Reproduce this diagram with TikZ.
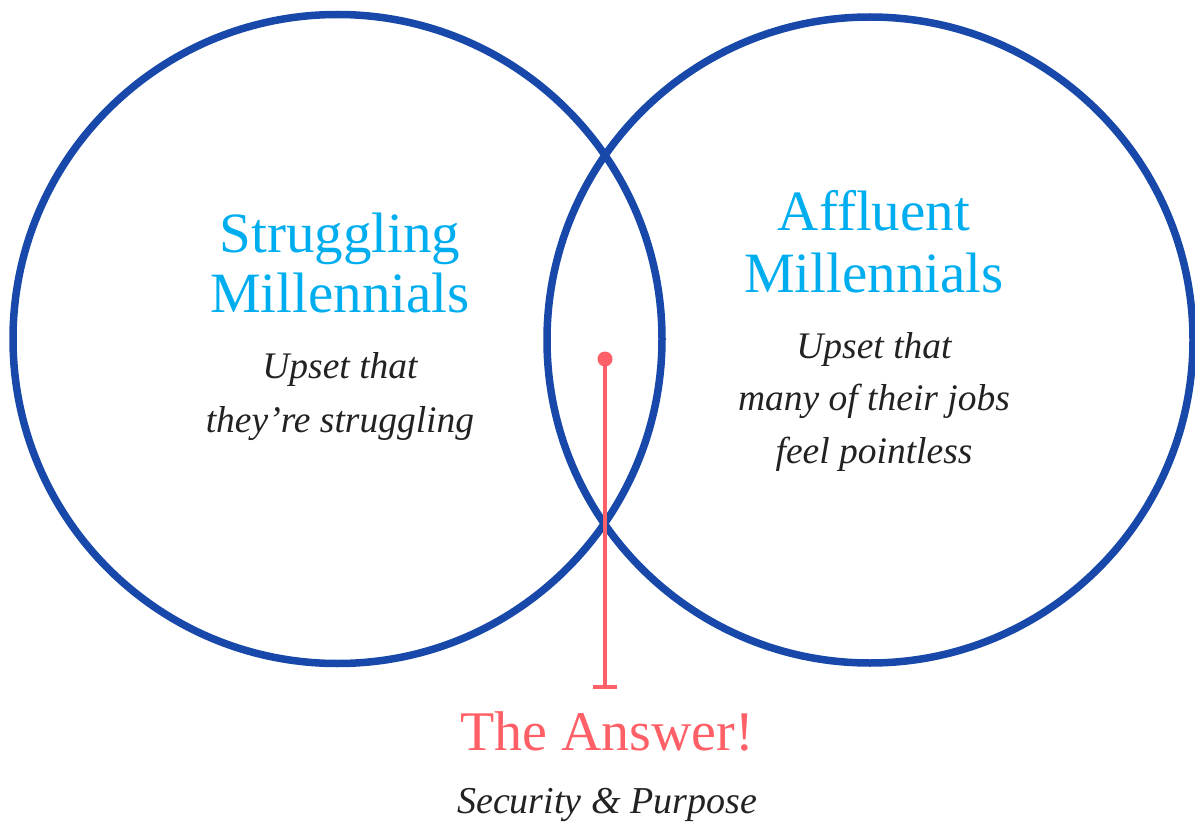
\documentclass[tikz,border=0pt]{standalone}
\usepackage{fontspec}
\setmainfont{Liberation Serif}
\usetikzlibrary{arrows.meta}
\definecolor{ringblue}{HTML}{1748AA}
\definecolor{headcyan}{HTML}{00AEEF}
\definecolor{answerpink}{HTML}{FF5F66}
\definecolor{bodyink}{HTML}{222222}
\tikzset{
  ring/.style={circle, draw=ringblue, line width=7.5pt, inner sep=0pt, minimum size=#1},
  headtext/.style={text=headcyan, font=\fontsize{57}{60}\selectfont, anchor=base, inner sep=0pt},
  bodytext/.style={text=bodyink, font=\fontsize{37.5}{54}\selectfont\itshape, anchor=base, inner sep=0pt},
  answertext/.style={text=answerpink, font=\fontsize{56}{60}\selectfont, anchor=base, inner sep=0pt},
  pointer/.style={draw=answerpink, line width=4pt},
  pindot/.style={circle, fill=answerpink, inner sep=0pt, minimum size=15pt},
}
\begin{document}
\begin{tikzpicture}[x=1pt, y=-1pt]
\useasboundingbox (0,0) rectangle (1195,824);
\node[ring=649pt] (left) at (337.5,339) {};
\node[ring=646pt] (right) at (870,340) {};
% left texts
\node[headtext] (lh1) at (340,252) {Struggling};
\node[headtext] (lh2) at (340,312) {Millennials};
\node[bodytext] (lb1) at (340,378) {Upset that};
\node[bodytext] (lb2) at (340,432) {they’re struggling};
% right texts
\node[headtext] (rh1) at (874,230) {Affluent};
\node[headtext] (rh2) at (874,292) {Millennials};
\node[bodytext] (rb1) at (874,358) {Upset that};
\node[bodytext] (rb2) at (874,410) {many of their jobs};
\node[bodytext] (rb3) at (874,463) {feel pointless};
% answer
\node[pindot] (dot) at (605,359) {};
\coordinate (barend) at (605,689);
\draw[pointer, -{Bar[width=24pt]}] (dot.center) -- (barend);
\node[answertext] (ans) at (607,750) {The Answer!};
\node[bodytext, font=\fontsize{38}{54}\selectfont\itshape] (sp) at (607,813) {Security \& Purpose};
\end{tikzpicture}
\end{document}
